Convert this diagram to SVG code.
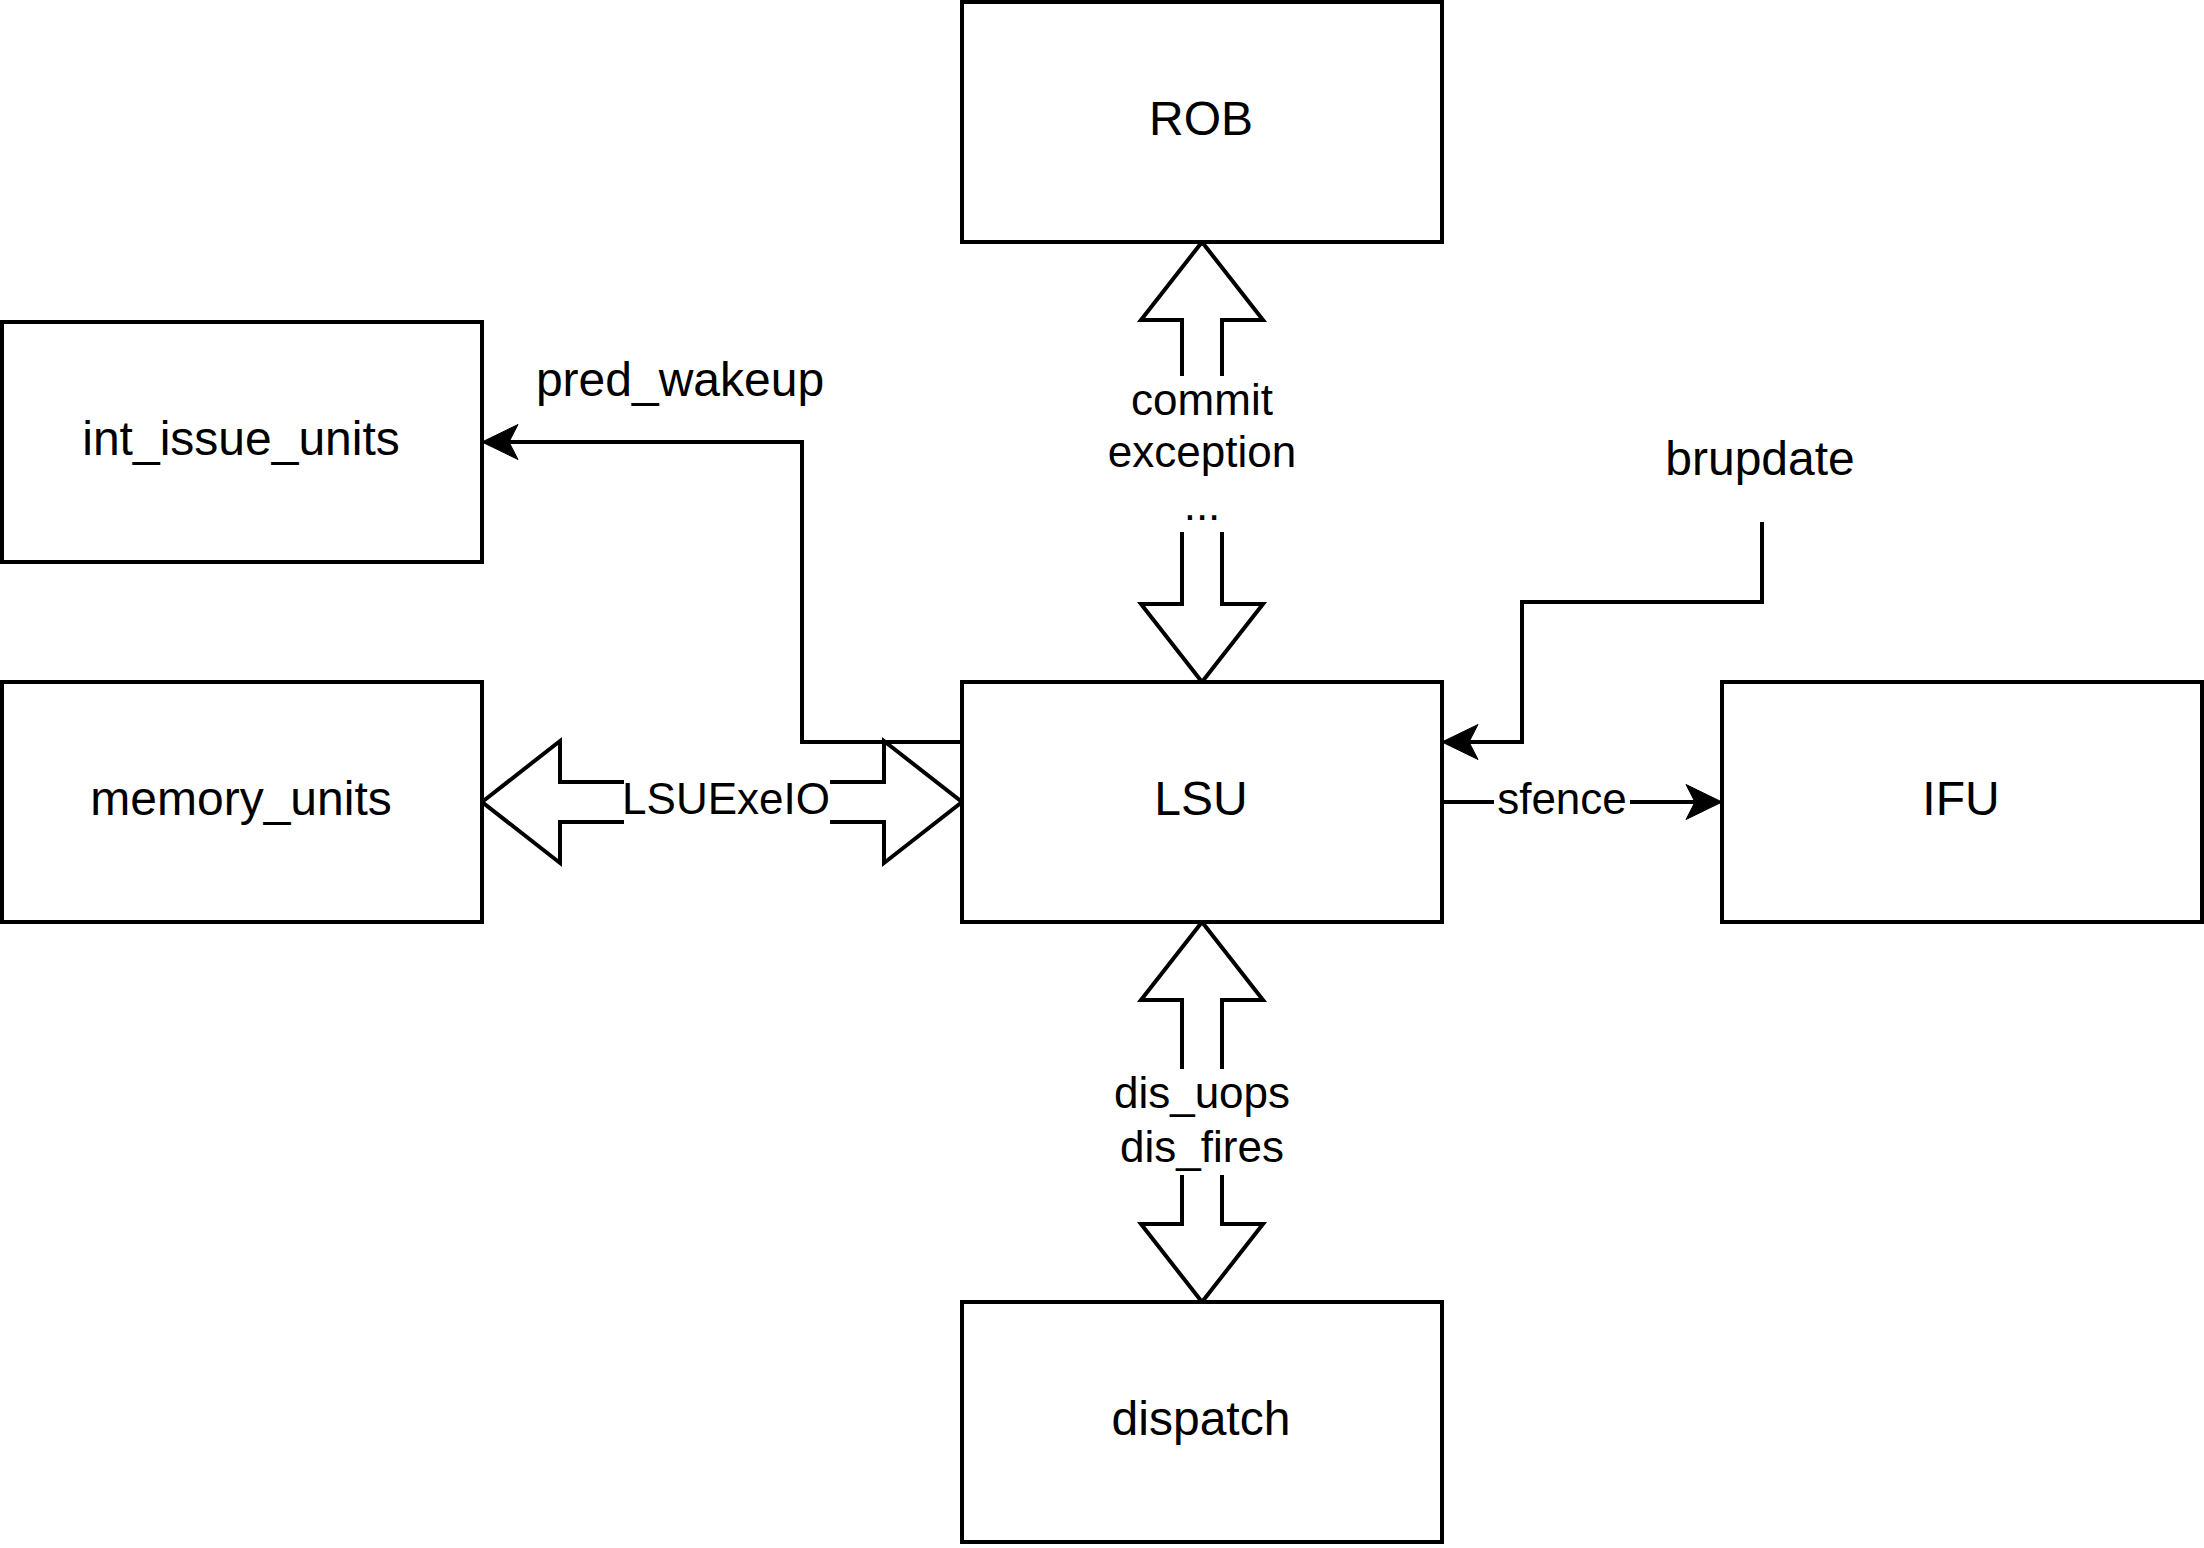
<svg xmlns="http://www.w3.org/2000/svg" width="2204" height="1548" viewBox="0 0 2204 1548">
<style>
.box{fill:#fff;stroke:#000;stroke-width:4}
.lbl{font-family:"Liberation Sans",Arial,Helvetica,sans-serif;font-size:48px;fill:#000;text-anchor:middle}
.elbl{font-family:"Liberation Sans",Arial,Helvetica,sans-serif;font-size:44px;fill:#000;text-anchor:middle}
.edge{fill:none;stroke:#000;stroke-width:4}
.flex{fill:#fff;stroke:#000;stroke-width:4;stroke-linejoin:miter}
.bg{fill:#fff;stroke:none}
</style>
<defs>
<marker id="arr" markerUnits="userSpaceOnUse" markerWidth="40" markerHeight="40" refX="9" refY="0" orient="auto" overflow="visible">
<path d="M36,0 L0,-17.5 L9,0 L0,17.5 Z" fill="#000" stroke="#000" stroke-width="1"/>
</marker>
</defs>
<rect width="2204" height="1548" fill="#fff"/>
<g id="connectors">
<path class="edge" d="M962,742 H802 V442 H509" marker-end="url(#arr)"/>
<path class="edge" d="M1762,522 V602 H1522 V742 H1469" marker-end="url(#arr)"/>
<path class="edge" d="M1442,802 H1695" marker-end="url(#arr)"/>
<rect class="bg" x="1494" y="778" width="136" height="48"/>
<text class="elbl" x="1562" y="814">sfence</text>
<polygon class="flex" points="482,802 560,741 560,782 884,782 884,741 962,802 884,863 884,822 560,822 560,863"/>
<rect class="bg" x="624" y="776" width="206" height="52"/>
<text class="elbl" x="726" y="814">LSUExeIO</text>
<polygon class="flex" points="1202,242 1141,320 1182,320 1182,604 1141,604 1202,682 1263,604 1222,604 1222,320 1263,320"/>
<rect class="bg" x="1170" y="376" width="64" height="156"/>
<text class="elbl" x="1202" y="415">commit</text>
<text class="elbl" x="1202" y="467">exception</text>
<text class="elbl" x="1202" y="520">...</text>
<polygon class="flex" points="1202,922 1141,1000 1182,1000 1182,1224 1141,1224 1202,1302 1263,1224 1222,1224 1222,1000 1263,1000"/>
<rect class="bg" x="1170" y="1069" width="64" height="106"/>
<text class="elbl" x="1202" y="1108">dis_uops</text>
<text class="elbl" x="1202" y="1162">dis_fires</text>
<text class="lbl" x="680" y="396">pred_wakeup</text>
<text class="lbl" x="1760" y="475">brupdate</text>
</g>
<g id="ROB"><rect class="box" x="962" y="2" width="480" height="240"/><text class="lbl" x="1201" y="135">ROB</text></g>
<g id="int_issue_units"><rect class="box" x="2" y="322" width="480" height="240"/><text class="lbl" x="241" y="455">int_issue_units</text></g>
<g id="memory_units"><rect class="box" x="2" y="682" width="480" height="240"/><text class="lbl" x="241" y="815">memory_units</text></g>
<g id="LSU"><rect class="box" x="962" y="682" width="480" height="240"/><text class="lbl" x="1201" y="815">LSU</text></g>
<g id="IFU"><rect class="box" x="1722" y="682" width="480" height="240"/><text class="lbl" x="1961" y="815">IFU</text></g>
<g id="dispatch"><rect class="box" x="962" y="1302" width="480" height="240"/><text class="lbl" x="1201" y="1435">dispatch</text></g>
</svg>
